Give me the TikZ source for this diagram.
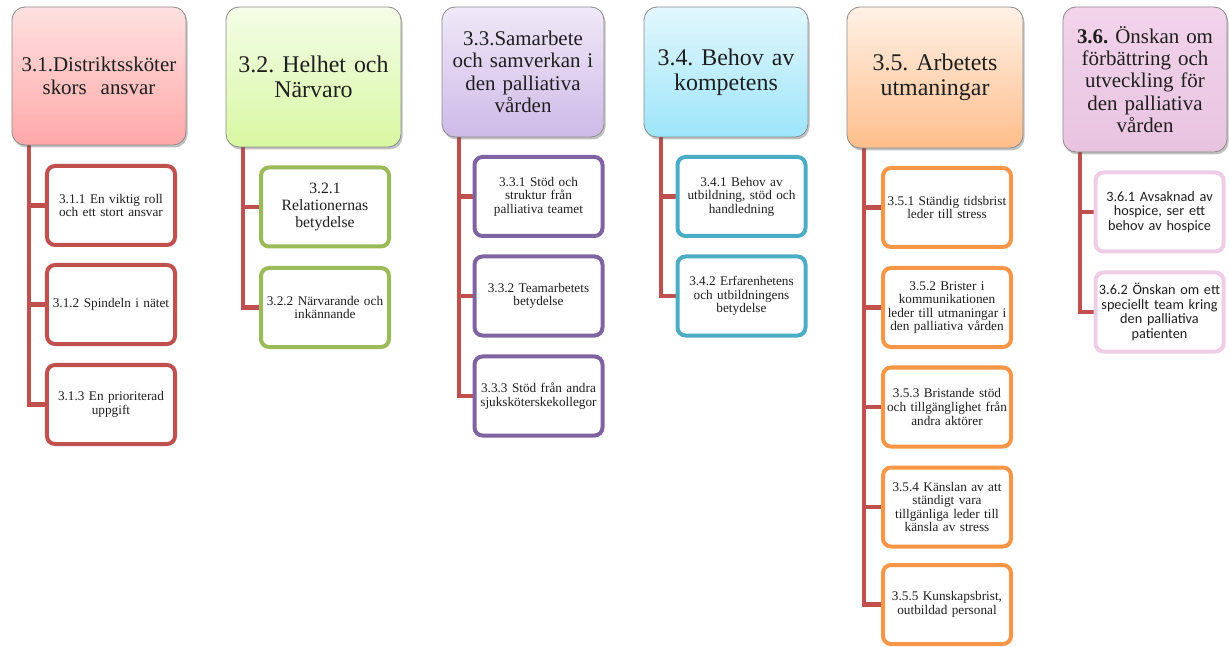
\documentclass[tikz,border=0pt]{standalone}
\usepackage{fontspec}
\setmainfont{Liberation Serif}
\newfontfamily\calib{Carlito}
\usetikzlibrary{shadows}
\pgfdeclarelayer{bg}
\pgfsetlayers{bg,main}
\frenchspacing
\hyphenpenalty=10000
\definecolor{cred}{HTML}{C0504D}
\definecolor{cgreen}{HTML}{9BBB59}
\definecolor{cpurple}{HTML}{8064A2}
\definecolor{cblue}{HTML}{4BACC6}
\definecolor{corange}{HTML}{F79646}
\definecolor{cpink}{HTML}{EFCDE6}
\definecolor{txt}{HTML}{1E1E1E}
\tikzset{
  hdr/.style={draw=black!45, line width=0.8bp, rounded corners=13bp, align=center,
    inner sep=0pt, text=txt,
    drop shadow={shadow xshift=1.5bp, shadow yshift=-2.5bp, opacity=0.35, fill=black!70}},
  kid/.style={draw=#1, line width=4bp, rounded corners=8bp, fill=white, align=center,
    inner sep=0pt, text=txt, minimum width=128bp, minimum height=79bp, text width=124bp,
    font=\fontsize{13.3}{13.6}\selectfont},
  sanskid/.style={kid=cpink, font=\calib\fontsize{14.3}{14.7}\selectfont},
  conn/.style={draw=cred, line width=4.5bp},
  ha/.style={font=\fontsize{21}{22.5}\selectfont},
  hb/.style={font=\fontsize{24}{25.5}\selectfont}
}
\begin{document}
\begin{tikzpicture}[x=1bp,y=-1bp]
\useasboundingbox (0,0) rectangle (1229,647);

% headers
\node[hdr, ha, top color=red!12!white, bottom color=red!35!white!90!pink, minimum width=174bp, minimum height=138bp, text width=168bp] (h1) at (99,76)
  {3.1.Distriktssköter\\skors\ \ ansvar};
\node[hdr, hb, top color={rgb,255:red,244;green,253;blue,232}, bottom color={rgb,255:red,216;green,248;blue,162}, minimum width=175bp, minimum height=140bp, text width=168bp] (h2) at (313.5,77)
  {3.2. Helhet och\\Närvaro};
\node[hdr, ha, top color={rgb,255:red,240;green,232;blue,247}, bottom color={rgb,255:red,206;green,186;blue,232}, minimum width=162bp, minimum height=130bp, text width=156bp] (h3) at (523,72)
  {3.3.Samarbete\\och samverkan i\\den palliativa\\vården};
\node[hdr, hb, top color={rgb,255:red,226;green,247;blue,253}, bottom color={rgb,255:red,158;green,229;blue,250}, minimum width=164bp, minimum height=130bp, text width=158bp] (h4) at (726,72)
  {3.4. Behov av\\kompetens};
\node[hdr, hb, top color={rgb,255:red,255;green,241;blue,230}, bottom color={rgb,255:red,255;green,190;blue,140}, minimum width=176bp, minimum height=141bp, text width=170bp] (h5) at (935,77.5)
  {3.5. Arbetets\\utmaningar};
\node[hdr, ha, top color={rgb,255:red,242;green,212;blue,235}, bottom color={rgb,255:red,232;green,195;blue,224}, minimum width=164bp, minimum height=145bp, text width=158bp] (h6) at (1145,79.5)
  {\textbf{3.6.} Önskan om\\förbättring och\\utveckling för\\den palliativa\\vården};

% children
\node[kid=cred] (c11) at (111,205.5) {3.1.1 En viktig roll\\och ett stort ansvar};
\node[kid=cred] (c12) at (111,304.5) {3.1.2 Spindeln i nätet};
\node[kid=cred] (c13) at (111,404.5) {3.1.3 En prioriterad\\uppgift};

\node[kid=cgreen, font=\fontsize{15.8}{16.7}\selectfont] (c21) at (325,207) {3.2.1\\Relationernas\\betydelse};
\node[kid=cgreen] (c22) at (325,307.5) {3.2.2 Närvarande och\\inkännande};

\node[kid=cpurple] (c31) at (538.5,196.5) {3.3.1 Stöd och\\struktur från\\palliativa teamet};
\node[kid=cpurple] (c32) at (538.5,296) {3.3.2 Teamarbetets\\betydelse};
\node[kid=cpurple] (c33) at (538.5,396) {3.3.3 Stöd från andra\\sjuksköterskekollegor};

\node[kid=cblue] (c41) at (741.5,196.5) {3.4.1 Behov av\\utbildning, stöd och\\handledning};
\node[kid=cblue] (c42) at (741.5,296) {3.4.2 Erfarenhetens\\och utbildningens\\betydelse};

\node[kid=corange] (c51) at (947,207.5) {3.5.1 Ständig tidsbrist\\leder till stress};
\node[kid=corange] (c52) at (947,307.5) {3.5.2 Brister i\\kommunikationen\\leder till utmaningar i\\den palliativa vården};
\node[kid=corange] (c53) at (947,407) {3.5.3 Bristande stöd\\och tillgänglighet från\\andra aktörer};
\node[kid=corange] (c54) at (947,507) {3.5.4 Känslan av att\\ständigt vara\\tillgänliga leder till\\känsla av stress};
\node[kid=corange] (c55) at (947,604.5) {3.5.5 Kunskapsbrist,\\outbildad personal};

\node[sanskid] (c61) at (1159.5,212) {3.6.1 Avsaknad av\\hospice, ser ett\\behov av hospice};
\node[sanskid] (c62) at (1159.5,312) {3.6.2 Önskan om ett\\speciellt team kring\\den palliativa\\patienten};

% connectors
\begin{pgfonlayer}{bg}
\foreach \h/\c in {h1/c11,h1/c12,h1/c13,h2/c21,h2/c22,h3/c31,h3/c32,h3/c33,h4/c41,h4/c42,
                   h5/c51,h5/c52,h5/c53,h5/c54,h5/c55,h6/c61,h6/c62}
  \draw[conn] ([xshift=17.5bp]\h.south west) |- (\c.west);
\end{pgfonlayer}
\end{tikzpicture}
\end{document}
